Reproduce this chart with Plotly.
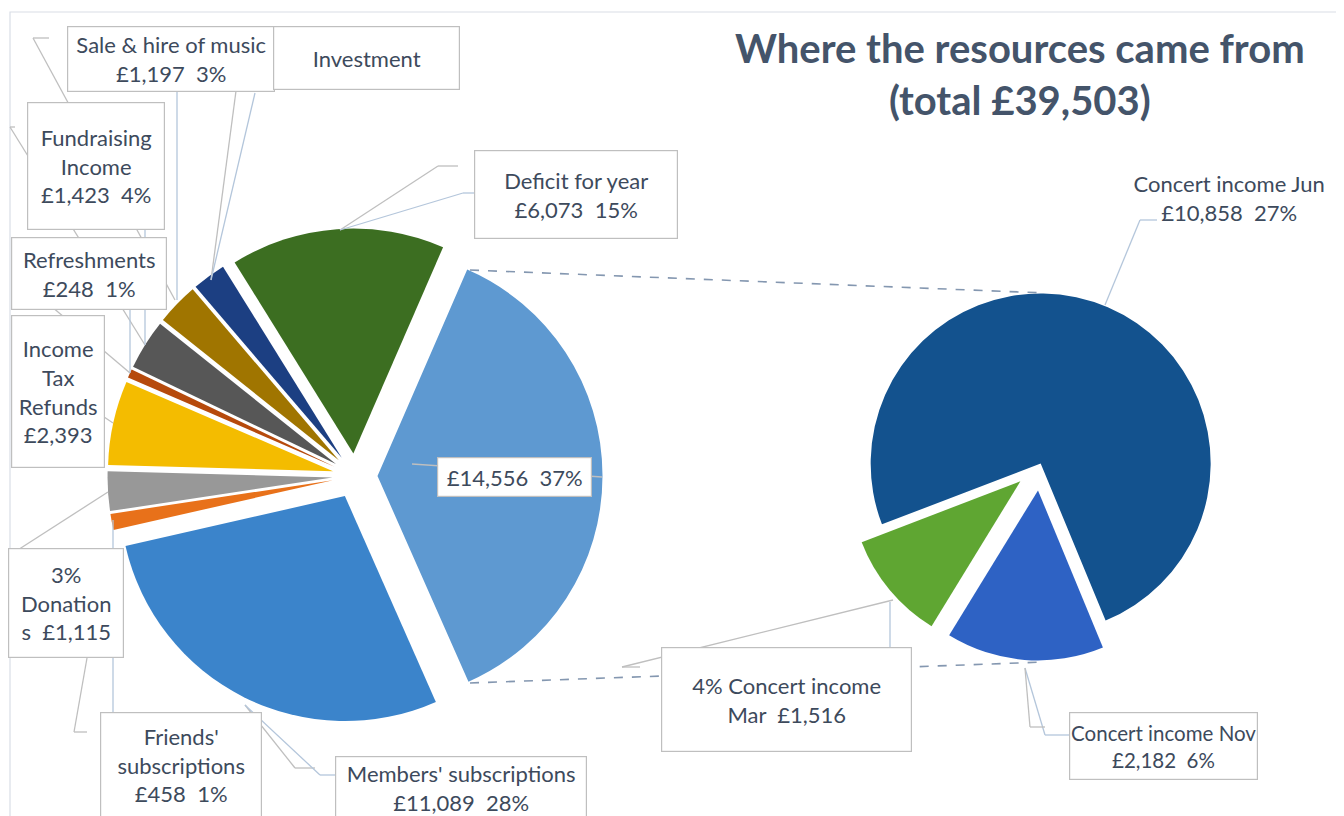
import plotly.graph_objects as go

W, H = 1344, 816
OFF = 8  # page margin of the html body

# main pie (concert income grouped into one slice)
main_labels = ["Concert income", "Members' subscriptions", "Friends' subscriptions", "Donations",
               "Income Tax Refunds", "Refreshments", "Fundraising Income", "Sale & hire of music",
               "Investment", "Deficit for year"]
main_values = [14556, 11089, 458, 1115, 2393, 248, 1423, 1197, 951, 6073]
main_colors = ["#5E99D1", "#3B84CB", "#E8711A", "#989898", "#F4BC00", "#B64A0C",
               "#575757", "#A07500", "#1C3F82", "#3C6E21"]

# secondary pie (concert income split)
sub_labels = ["Concert income Jun", "Concert income Nov", "Concert income Mar"]
sub_values = [10858, 2182, 1516]
sub_colors = ["#13528E", "#2E62C4", "#5FA632"]

# data label texts as shown on the chart
main_texts = ["£14,556  37%", "Members' subscriptions<br>£11,089  28%", "Friends'<br>subscriptions<br>£458  1%",
              "3%<br>Donation<br>s  £1,115", "Income<br>Tax<br>Refunds<br>£2,393", "Refreshments<br>£248  1%",
              "Fundraising<br>Income<br>£1,423  4%", "Sale & hire of music<br>£1,197  3%", "Investment",
              "Deficit for year<br>£6,073  15%"]
sub_texts = ["Concert income Jun<br>£10,858  27%", "Concert income Nov<br>£2,182  6%",
             "4% Concert income<br>Mar  £1,516"]


def P(x, y):
    return (x - OFF) / W, 1 - (y - OFF) / H


def dom(cx, cy, r, pull):
    R = r * (1 + pull)
    ax, ay = P(cx - R, cy + R)
    bx, by = P(cx + R, cy - R)
    return dict(x=[ax, bx], y=[ay, by])


fig = go.Figure()

fig.add_trace(go.Pie(
    labels=main_labels, values=main_values, sort=False, direction="clockwise", rotation=23.5,
    marker=dict(colors=main_colors, line=dict(width=0)), pull=[0.1] * len(main_values),
    textinfo="none", showlegend=False, domain=dom(355, 476, 225, 0.1),
))
fig.add_trace(go.Pie(
    labels=sub_labels, values=sub_values, sort=False, direction="clockwise", rotation=249,
    marker=dict(colors=sub_colors, line=dict(width=0)), pull=[0.01, 0.15, 0.15],
    textinfo="none", showlegend=False, domain=dom(1040, 465, 170, 0.15),
))

shapes = []
# chart area border
x0, y0 = P(10, 12)
x1, y1 = P(1400, 900)
shapes.append(dict(type="rect", xref="paper", yref="paper", x0=x0, y0=y1, x1=x1, y1=y0,
                   line=dict(color="#D9DEE6", width=1.2), layer="below"))


def polyline(pts, color, dash="solid", width=1.3):
    for (ax, ay), (bx, by) in zip(pts[:-1], pts[1:]):
        a, b = P(ax, ay), P(bx, by)
        shapes.append(dict(type="line", xref="paper", yref="paper", x0=a[0], y0=a[1], x1=b[0], y1=b[1],
                           line=dict(color=color, width=width, dash=dash)))


GREY, BLUE = "#BFBFBF", "#B4C6DB"
polyline([(49, 38), (33, 38), (175, 300)], GREY)
polyline([(177, 92), (177, 300)], BLUE)
polyline([(258, 38), (243, 38), (211, 280)], GREY)
polyline([(255, 93), (211, 280)], BLUE)
polyline([(15, 127), (10, 127), (145, 345)], GREY)
polyline([(145, 230), (145, 345)], BLUE)
polyline([(12, 273), (130, 373)], GREY)
polyline([(130, 310), (130, 373)], BLUE)
polyline([(12, 355), (113, 423)], GREY)
polyline([(10, 555), (108, 492)], GREY)
polyline([(87, 658), (74, 732), (87, 732)], GREY)
polyline([(113, 520), (113, 712)], BLUE)
polyline([(245, 705), (295, 768), (315, 768)], GREY)
polyline([(245, 705), (320, 775), (337, 775)], BLUE)
polyline([(340, 230), (438, 166), (458, 166)], GREY)
polyline([(340, 230), (463, 193), (474, 193)], BLUE)
polyline([(412, 464), (602, 477)], GREY)
polyline([(1105, 305), (1140, 220), (1157, 220)], BLUE)
polyline([(640, 667), (622, 667), (893, 600)], GREY)
polyline([(890, 602), (890, 647)], BLUE)
polyline([(1025, 668), (1045, 735), (1069, 735)], BLUE)
polyline([(1025, 668), (1030, 727), (1045, 727)], GREY)
# series lines between the two pies
polyline([(470, 270), (1045, 293)], "#8497B0", dash="dash", width=1.6)
polyline([(470, 683), (1045, 662)], "#8497B0", dash="dash", width=1.6)

TXT = "#3D4A5C"
FONT = "Lato"
annotations = []


def box(text, x0, y0, x1, y1, border=True, size=22):
    x, y = P(x0, y0)
    annotations.append(dict(
        text=text, xref="paper", yref="paper", x=x, y=y, xanchor="left", yanchor="top",
        width=x1 - x0 - 2, height=y1 - y0 - 2, align="center", valign="middle", showarrow=False,
        bgcolor="white" if border else "rgba(0,0,0,0)",
        bordercolor="#BFBFBF" if border else "rgba(0,0,0,0)", borderwidth=1.2, borderpad=0,
        font=dict(family=FONT, size=size, color=TXT),
    ))


box(main_texts[0], 437, 457, 592, 497)
box(main_texts[1], 335, 756, 587, 820)
box(main_texts[2], 100, 712, 262, 818)
box(main_texts[3], 8, 548, 124, 658)
box(main_texts[4], 11, 315, 105, 468)
box(main_texts[5], 11, 237, 167, 310)
box(main_texts[6], 27, 102, 165, 230)
box(main_texts[7], 67, 26, 275, 92)
box(main_texts[8], 273, 26, 460, 90)
box(main_texts[9], 474, 150, 678, 239)
box(sub_texts[0], 1128, 166, 1330, 230, border=False)
box(sub_texts[1], 1069, 712, 1258, 780, size=20.5)
box(sub_texts[2], 661, 647, 912, 752)

tx, ty = P(1020, 74)
annotations.append(dict(
    text="<b>Where the resources came from<br>(total £39,503)</b>", xref="paper", yref="paper",
    x=tx, y=ty, xanchor="center", yanchor="middle", showarrow=False,
    font=dict(family=FONT, size=40, color="#44546A"),
))

fig.update_layout(
    width=W, height=H, margin=dict(l=0, r=0, t=0, b=0),
    paper_bgcolor="white", plot_bgcolor="white",
    shapes=shapes, annotations=annotations,
)

fig.write_html("out.html")
